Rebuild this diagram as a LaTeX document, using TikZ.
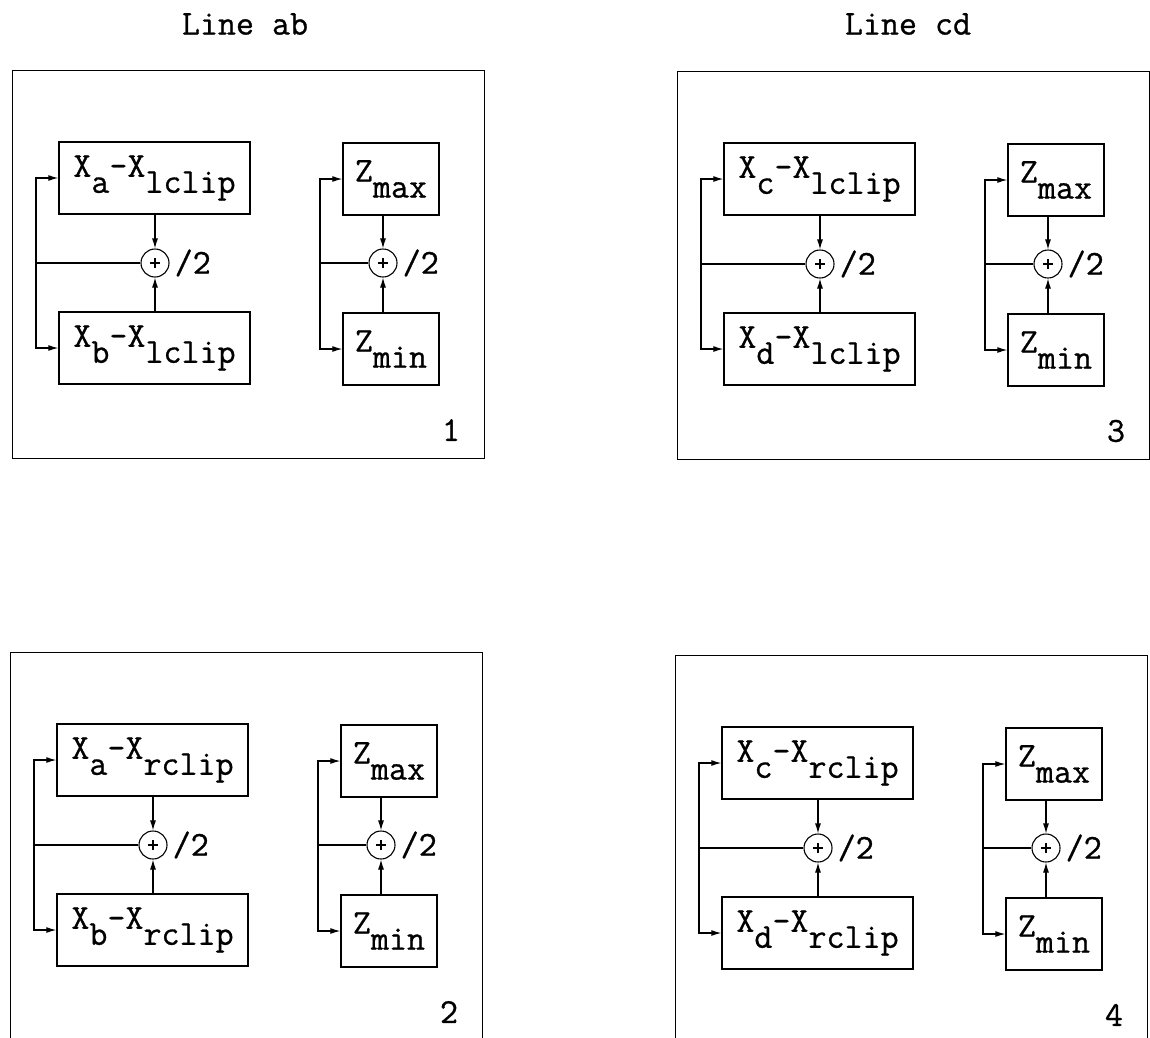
\documentclass[tikz,border=0pt]{standalone}
\usepackage{fontspec}
\newfontfamily\twfont{Latin Modern Mono}[FakeBold=0.8]
\usetikzlibrary{arrows.meta,calc}
\newcommand\lowr[1]{\raisebox{-16pt}{#1}}
\tikzset{
  txt/.style={font=\fontsize{35}{40}\selectfont\twfont, inner sep=0pt},
  xbox/.style={txt, draw, line width=1.5pt, minimum width=191pt, minimum height=72pt},
  zbox/.style={txt, draw, line width=1.5pt, minimum width=96pt, minimum height=72pt},
  adder/.style={draw, circle, line width=1.1pt, minimum size=28pt, inner sep=0pt},
  wire/.style={line width=1.1pt},
  arr/.style={wire, -{Latex[length=10pt,width=6pt]}},
  frame/.style={line width=0.9pt}
}
% #1 prefix, #2 ox, #3 oy, #4 first endpoint, #5 second endpoint, #6 l/r, #7 number
\newcommand\mkpanel[7]{%
  \begin{scope}[shift={(#2,#3)}]
    \draw[frame] (0,0) rectangle (472,388);
    \node[xbox] (#1A) at (142.5,108) {X\lowr{#4}-X\lowr{#6clip}};
    \node[xbox] (#1B) at (142.5,278) {X\lowr{#5}-X\lowr{#6clip}};
    \node[zbox] (#1C) at (379,109) {Z\lowr{max}};
    \node[zbox] (#1D) at (379,279) {Z\lowr{min}};
    \node[adder] (#1S) at (143,193) {};
    \node[adder] (#1T) at (371,193) {};
    \draw[wire] ([xshift=-5pt]#1S.center) -- ([xshift=5pt]#1S.center)
                ([yshift=-5pt]#1S.center) -- ([yshift=5pt]#1S.center);
    \draw[wire] ([xshift=-5pt]#1T.center) -- ([xshift=5pt]#1T.center)
                ([yshift=-5pt]#1T.center) -- ([yshift=5pt]#1T.center);
    \node[txt, anchor=west] (#1h) at ([xshift=5pt]#1S.east) {/2};
    \node[txt, anchor=west] (#1k) at ([xshift=5pt]#1T.east) {/2};
    \node[txt] (#1n) at (439,360) {#7};
    \coordinate (#1u) at (24,193);
    \coordinate (#1v) at (308,193);
    \draw[arr] (#1A.south -| #1S) -- (#1S.north);
    \draw[arr] (#1B.north -| #1S) -- (#1S.south);
    \draw[wire] (#1u) -- (#1S.west);
    \draw[arr] (#1u) |- (#1A.west);
    \draw[arr] (#1u) |- (#1B.west);
    \draw[arr] (#1C.south -| #1T) -- (#1T.north);
    \draw[arr] (#1D.north -| #1T) -- (#1T.south);
    \draw[wire] (#1v) -- (#1T.west);
    \draw[arr] (#1v) |- (#1C.west);
    \draw[arr] (#1v) |- (#1D.west);
  \end{scope}}
\begin{document}
\begin{tikzpicture}[x=1pt,y=-1pt]
  \useasboundingbox (0,0) rectangle (1150,1037);
  \clip (0,0) rectangle (1150,1037);
  \node[txt] (t1) at (245,24) {Line ab};
  \node[txt] (t2) at (908,24) {Line cd};
  \mkpanel{p}{12}{70}{a}{b}{l}{1}
  \mkpanel{q}{677}{71}{c}{d}{l}{3}
  \mkpanel{r}{10}{652}{a}{b}{r}{2}
  \mkpanel{s}{675}{655}{c}{d}{r}{4}
\end{tikzpicture}
\end{document}
